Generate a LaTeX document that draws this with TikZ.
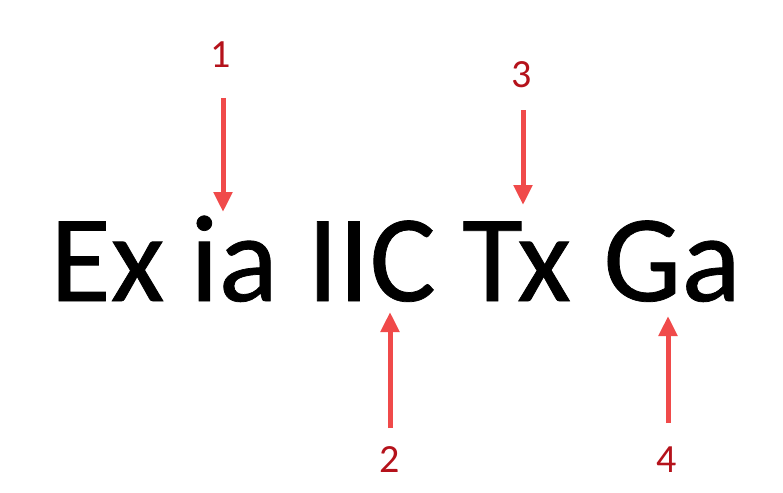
\documentclass[tikz,border=0pt]{standalone}
\usepackage{fontspec}
\setmainfont{Carlito}
\newfontface\heavyface{Carlito}[FakeBold=0.6]
\usetikzlibrary{arrows.meta}
\definecolor{arrowred}{HTML}{F04A4A}
\definecolor{numred}{HTML}{B5121B}
\tikzset{
	word/.style={anchor=base west,inner sep=0pt,font=\heavyface\fontsize{124}{124}\selectfont},
	num/.style={text=numred,font=\fontsize{40}{40}\selectfont},
	pointer/.style={draw=arrowred,line width=5pt,-{Triangle[width=18pt,length=20pt]}}
}
\begin{document}
\begin{tikzpicture}[x=1pt,y=-1pt]
		\useasboundingbox[fill=white] (0,0) rectangle (783,492);
		\node[word] (ex) at (50,301) {Ex};
		\node[word] (ia) at (190,301) {ia};
		\node[word] (iic) at (307,301) {IIC};
		\node[word] (tx) at (462,301) {Tx};
		\node[word] (ga) at (603,301) {Ga};
		\node[num] (n1) at (221,55) {1};
		\node[num] (n2) at (390,460) {2};
		\node[num] (n3) at (522,75) {3};
		\node[num] (n4) at (667,460) {4};
		% arrow ends
		\coordinate (s1) at (223,98);
		\coordinate (t1) at (223,212);
		\coordinate (s2) at (390,428);
		\coordinate (t2) at (390,312);
		\coordinate (s3) at (523,110);
		\coordinate (t3) at (523,205);
		\coordinate (s4) at (668,423);
		\coordinate (t4) at (668,316);
		\draw[pointer] (s1) -- (t1);
		\draw[pointer] (s2) -- (t2);
		\draw[pointer] (s3) -- (t3);
		\draw[pointer] (s4) -- (t4);
	\end{tikzpicture}
\end{document}
